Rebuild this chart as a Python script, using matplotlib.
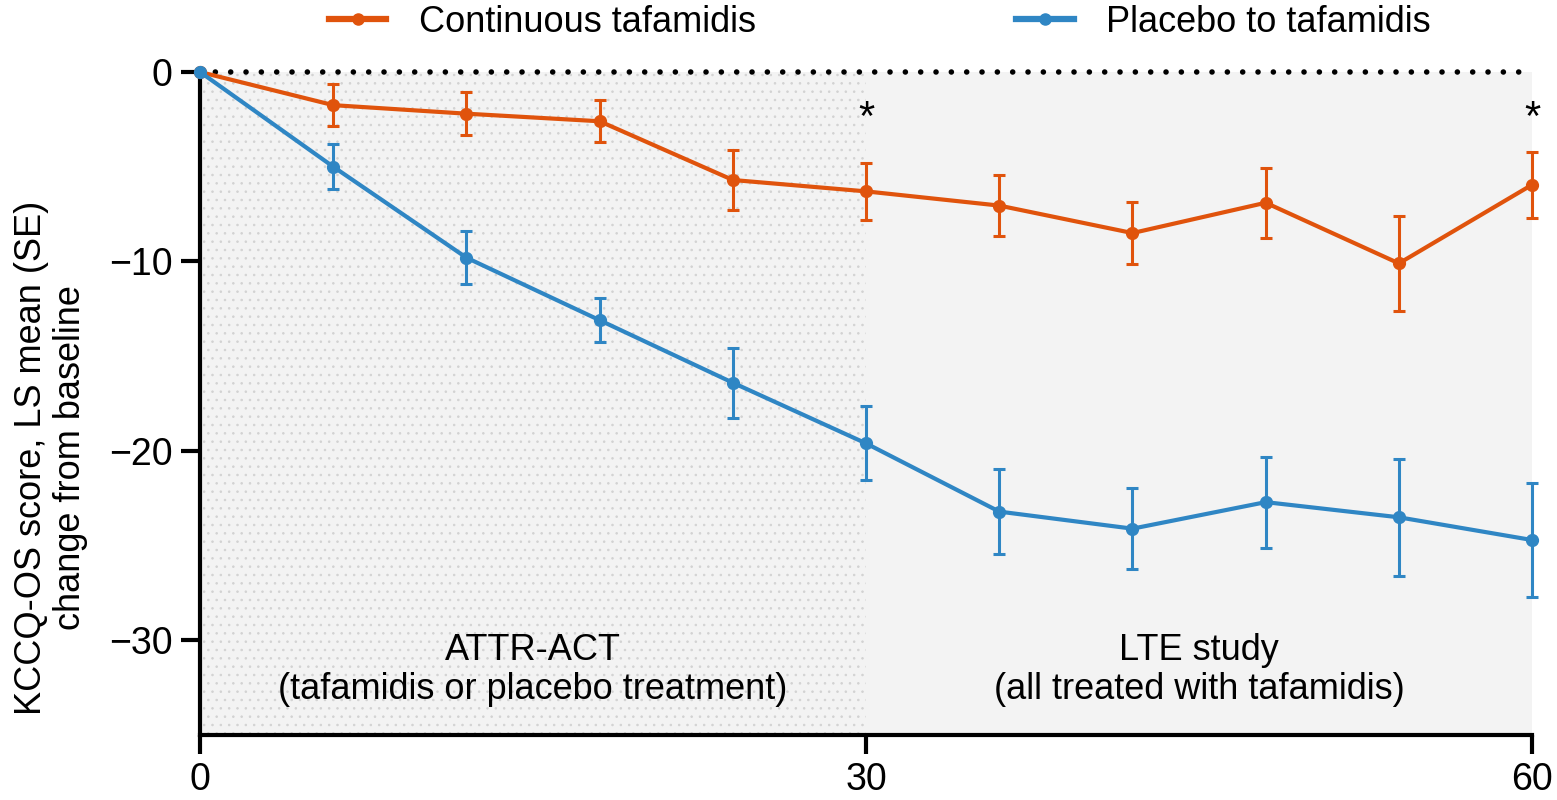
import matplotlib.pyplot as plt
from matplotlib.lines import Line2D

plt.rcParams['font.family'] = ['Liberation Sans', 'DejaVu Sans']
plt.rcParams['hatch.linewidth'] = 0.6

# months from baseline
months = [0, 6, 12, 18, 24, 30, 36, 42, 48, 54, 60]

# continuous tafamidis
cont_mean = [0, -1.75, -2.2, -2.6, -5.7, -6.3, -7.05, -8.5, -6.9, -10.1, -5.95]
cont_se = [0, 1.1, 1.15, 1.1, 1.6, 1.5, 1.6, 1.65, 1.85, 2.5, 1.75]

# placebo to tafamidis
plac_mean = [0, -5.0, -9.8, -13.1, -16.4, -19.6, -23.2, -24.1, -22.7, -23.5, -24.7]
plac_se = [0, 1.2, 1.4, 1.15, 1.85, 1.95, 2.25, 2.15, 2.4, 3.1, 3.0]

star_months = [30, 60]

orange = '#e0530c'
blue = '#2f86c4'

fig = plt.figure(figsize=(15.57, 8), dpi=100)
ax = fig.add_axes([0.1285, 0.081, 0.8555, 0.829])

# background panels
ax.axvspan(0, 30, color='#f3f3f3', lw=0, zorder=0)
ax.axvspan(0, 30, facecolor='none', edgecolor='#d2d2d2', hatch='..', lw=0, zorder=0.5)
ax.axvspan(30, 60, color='#f3f3f3', lw=0, zorder=0)

# reference line at zero
ax.plot([0, 60], [0, 0], color='black', lw=4, linestyle=(0, (0.01, 2.75)),
        dash_capstyle='round', zorder=1, clip_on=False)

handles = []
for mean, se, col, lab in [(cont_mean, cont_se, orange, 'Continuous tafamidis'),
                           (plac_mean, plac_se, blue, 'Placebo to tafamidis')]:
    ax.errorbar(months, mean, yerr=se, fmt='none', ecolor=col, elinewidth=2.2,
                capsize=4.3, capthick=2.2, zorder=3, clip_on=False)
    ax.plot(months, mean, color=col, lw=3, marker='o', ms=8.5,
            zorder=4, clip_on=False)
    handles.append(Line2D([], [], color=col, lw=4.5, marker='o', ms=8, label=lab))

for m in star_months:
    ax.text(m, -2.5, '*', ha='center', va='center', fontsize=30)

ax.text(15, -31.55, 'ATTR-ACT\n(tafamidis or placebo treatment)', ha='center',
        va='center', fontsize=26, linespacing=1.15)
ax.text(45, -31.55, 'LTE study\n(all treated with tafamidis)', ha='center',
        va='center', fontsize=26, linespacing=1.15)

ax.set_xlim(0, 60)
ax.set_ylim(-35, 0)
ax.set_xticks([0, 30, 60])
ax.set_yticks([0, -10, -20, -30])
ax.tick_params(labelsize=27, length=14, width=3)
ax.tick_params(axis='x', pad=5)
ax.tick_params(axis='y', pad=6)
for s in ['top', 'right']:
    ax.spines[s].set_visible(False)
for s in ['left', 'bottom']:
    ax.spines[s].set_linewidth(3)

ax.set_ylabel('KCCQ-OS score, LS mean (SE)\nchange from baseline', fontsize=26,
              linespacing=1.15)
ax.yaxis.set_label_coords(-0.084, 0.418)

fig.legend(handles=handles, loc='upper center', bbox_to_anchor=(0.565, 1.035), ncol=2,
           frameon=False, fontsize=26, handlelength=1.6, handletextpad=0.9,
           columnspacing=7.2, numpoints=1)

fig.savefig('out.png', dpi=100)
